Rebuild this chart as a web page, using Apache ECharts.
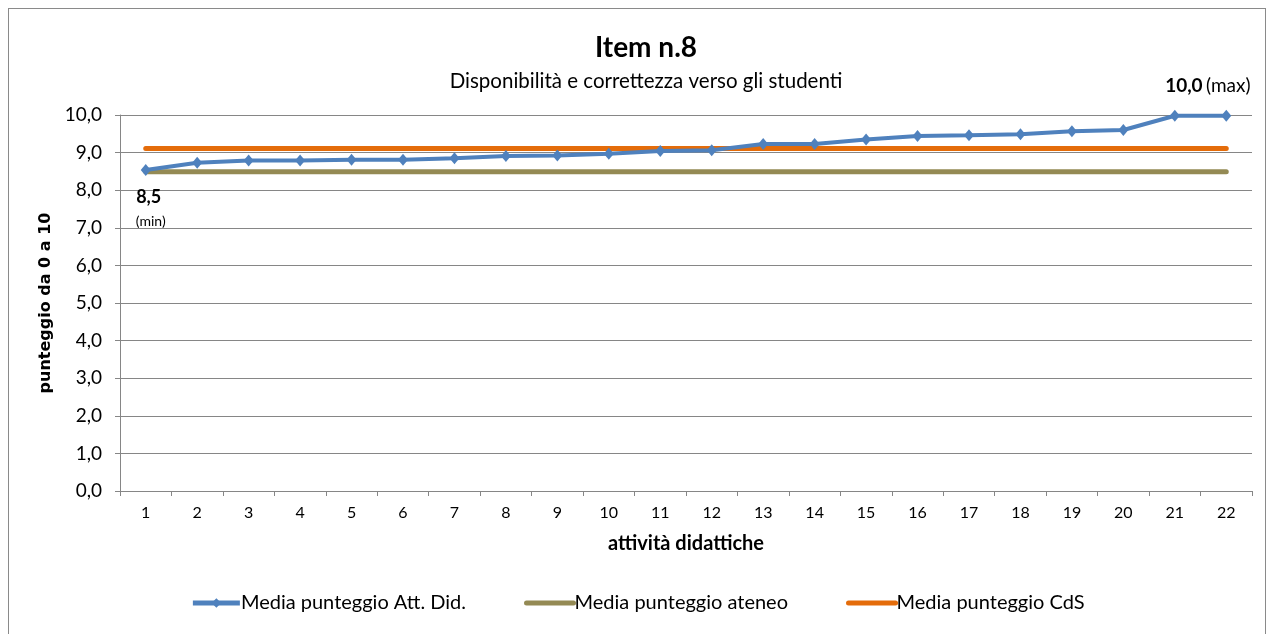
<!DOCTYPE html>
<html>
<head>
<meta charset="utf-8">
<script src="https://cdn.jsdelivr.net/npm/echarts@6/dist/echarts.min.js"></script>
<style>
html,body{margin:0;padding:0;background:#fff;}
#frame{position:absolute;left:8px;top:8px;width:1258px;height:640px;border:1px solid #8a8a8a;box-sizing:border-box;}
#chart{position:absolute;left:0;top:0;width:1275px;height:634px;}
</style>
</head>
<body>
<div id="frame"></div>
<div id="chart"></div>
<script>
const categories = ['1','2','3','4','5','6','7','8','9','10','11','12','13','14','15','16','17','18','19','20','21','22'];
const mediaAttDid = [8.54, 8.73, 8.79, 8.79, 8.81, 8.81, 8.85, 8.91, 8.92, 8.97, 9.04, 9.06, 9.23, 9.23, 9.35, 9.44, 9.46, 9.49, 9.57, 9.60, 9.98, 9.98];
const mediaAteneo = [8.49, 8.49, 8.49, 8.49, 8.49, 8.49, 8.49, 8.49, 8.49, 8.49, 8.49, 8.49, 8.49, 8.49, 8.49, 8.49, 8.49, 8.49, 8.49, 8.49, 8.49, 8.49];
const mediaCdS = [9.11, 9.11, 9.11, 9.11, 9.11, 9.11, 9.11, 9.11, 9.11, 9.11, 9.11, 9.11, 9.11, 9.11, 9.11, 9.11, 9.11, 9.11, 9.11, 9.11, 9.11, 9.11];
const seriesNames = ['Media punteggio Att. Did.', 'Media punteggio ateneo', 'Media punteggio CdS'];

const FONT = 'Lato, "Open Sans", sans-serif';
const fmt = v => v.toFixed(1).replace('.', ',');

const minIdx = mediaAttDid.indexOf(Math.min(...mediaAttDid));
const maxIdx = mediaAttDid.indexOf(Math.max(...mediaAttDid));

const attData = mediaAttDid.map((v, i) => {
  if (i === minIdx) {
    return {value: v, label: {show: true, position: 'bottom', distance: 8, offset: [3, 0],
      formatter: '{b|' + fmt(Math.floor(v * 10) / 10) + '}\n{s|(min)}',
      rich: {b: {fontWeight: 'bold', fontSize: 18, color: '#000', fontFamily: FONT, lineHeight: 27, align: 'center'},
             s: {fontSize: 14, color: '#000', fontFamily: FONT, lineHeight: 22, align: 'center', padding: [0, 0, 0, 4]}}}};
  }
  if (i === maxIdx) {
    return {value: v, label: {show: true, position: 'top', distance: 14, offset: [33, 0],
      formatter: '{b|' + fmt(Math.round(v * 10) / 10) + '} {n|(max)}',
      rich: {b: {fontWeight: 'bold', fontSize: 19, color: '#000', fontFamily: FONT},
             n: {fontSize: 19, color: '#000', fontFamily: FONT}}}};
  }
  return v;
});

const chart = echarts.init(document.getElementById('chart'));
chart.setOption({
  backgroundColor: 'transparent',
  animation: false,
  title: {
    text: 'Item n.8',
    subtext: 'Disponibilità e correttezza verso gli studenti',
    left: 641, textAlign: 'center', top: 29, itemGap: 9,
    textStyle: {fontFamily: FONT, fontSize: 28, fontWeight: 'bold', color: '#000'},
    subtextStyle: {fontFamily: FONT, fontSize: 20.5, color: '#000'}
  },
  legend: {
    data: [
      {name: seriesNames[0]},
      {name: seriesNames[1], itemStyle: {opacity: 0}},
      {name: seriesNames[2], itemStyle: {opacity: 0}}
    ],
    bottom: 16, left: 'center',
    itemWidth: 47, itemHeight: 12, itemGap: 58,
    lineStyle: {width: 5},
    textStyle: {fontFamily: FONT, fontSize: 20, color: '#000', padding: [0, 0, 0, -4]}
  },
  grid: {left: 120, right: 23, top: 115, bottom: 143, containLabel: false},
  xAxis: {
    type: 'category', data: categories, boundaryGap: true,
    name: 'attività didattiche', nameLocation: 'middle', nameGap: 43,
    nameTextStyle: {fontFamily: FONT, fontSize: 20, fontWeight: 'bold', color: '#000'},
    axisLine: {lineStyle: {color: '#868686', width: 1}},
    axisTick: {show: true, interval: 0, length: 5, lineStyle: {color: '#868686'}},
    axisLabel: {fontFamily: FONT, fontSize: 16, color: '#000', margin: 14, interval: 0}
  },
  yAxis: {
    type: 'value', min: 0, max: 10, interval: 1,
    name: 'punteggio da 0 a 10', nameLocation: 'middle', nameGap: 65, nameRotate: 90,
    nameTextStyle: {fontFamily: '"DejaVu Sans", Verdana, sans-serif', fontSize: 16, fontWeight: 'bold', color: '#000'},
    axisLine: {show: true, lineStyle: {color: '#868686', width: 1}},
    axisTick: {show: true, length: 5, lineStyle: {color: '#868686'}},
    splitLine: {lineStyle: {color: '#868686', width: 1}},
    axisLabel: {fontFamily: FONT, fontSize: 19, color: '#000', margin: 18, formatter: fmt}
  },
  series: [
    {name: seriesNames[0], type: 'line', data: attData, z: 5,
     symbol: 'diamond', symbolSize: [10, 12], showAllSymbol: true,
     lineStyle: {color: '#4F81BD', width: 4},
     itemStyle: {color: '#4F81BD'}},
    {name: seriesNames[1], type: 'line', data: mediaAteneo, z: 3,
     symbol: 'none', lineStyle: {color: '#948A54', width: 5, cap: 'round'},
     itemStyle: {color: '#948A54'}},
    {name: seriesNames[2], type: 'line', data: mediaCdS, z: 4,
     symbol: 'none', lineStyle: {color: '#E46C0A', width: 5, cap: 'round'},
     itemStyle: {color: '#E46C0A'}}
  ]
});
</script>
</body>
</html>
